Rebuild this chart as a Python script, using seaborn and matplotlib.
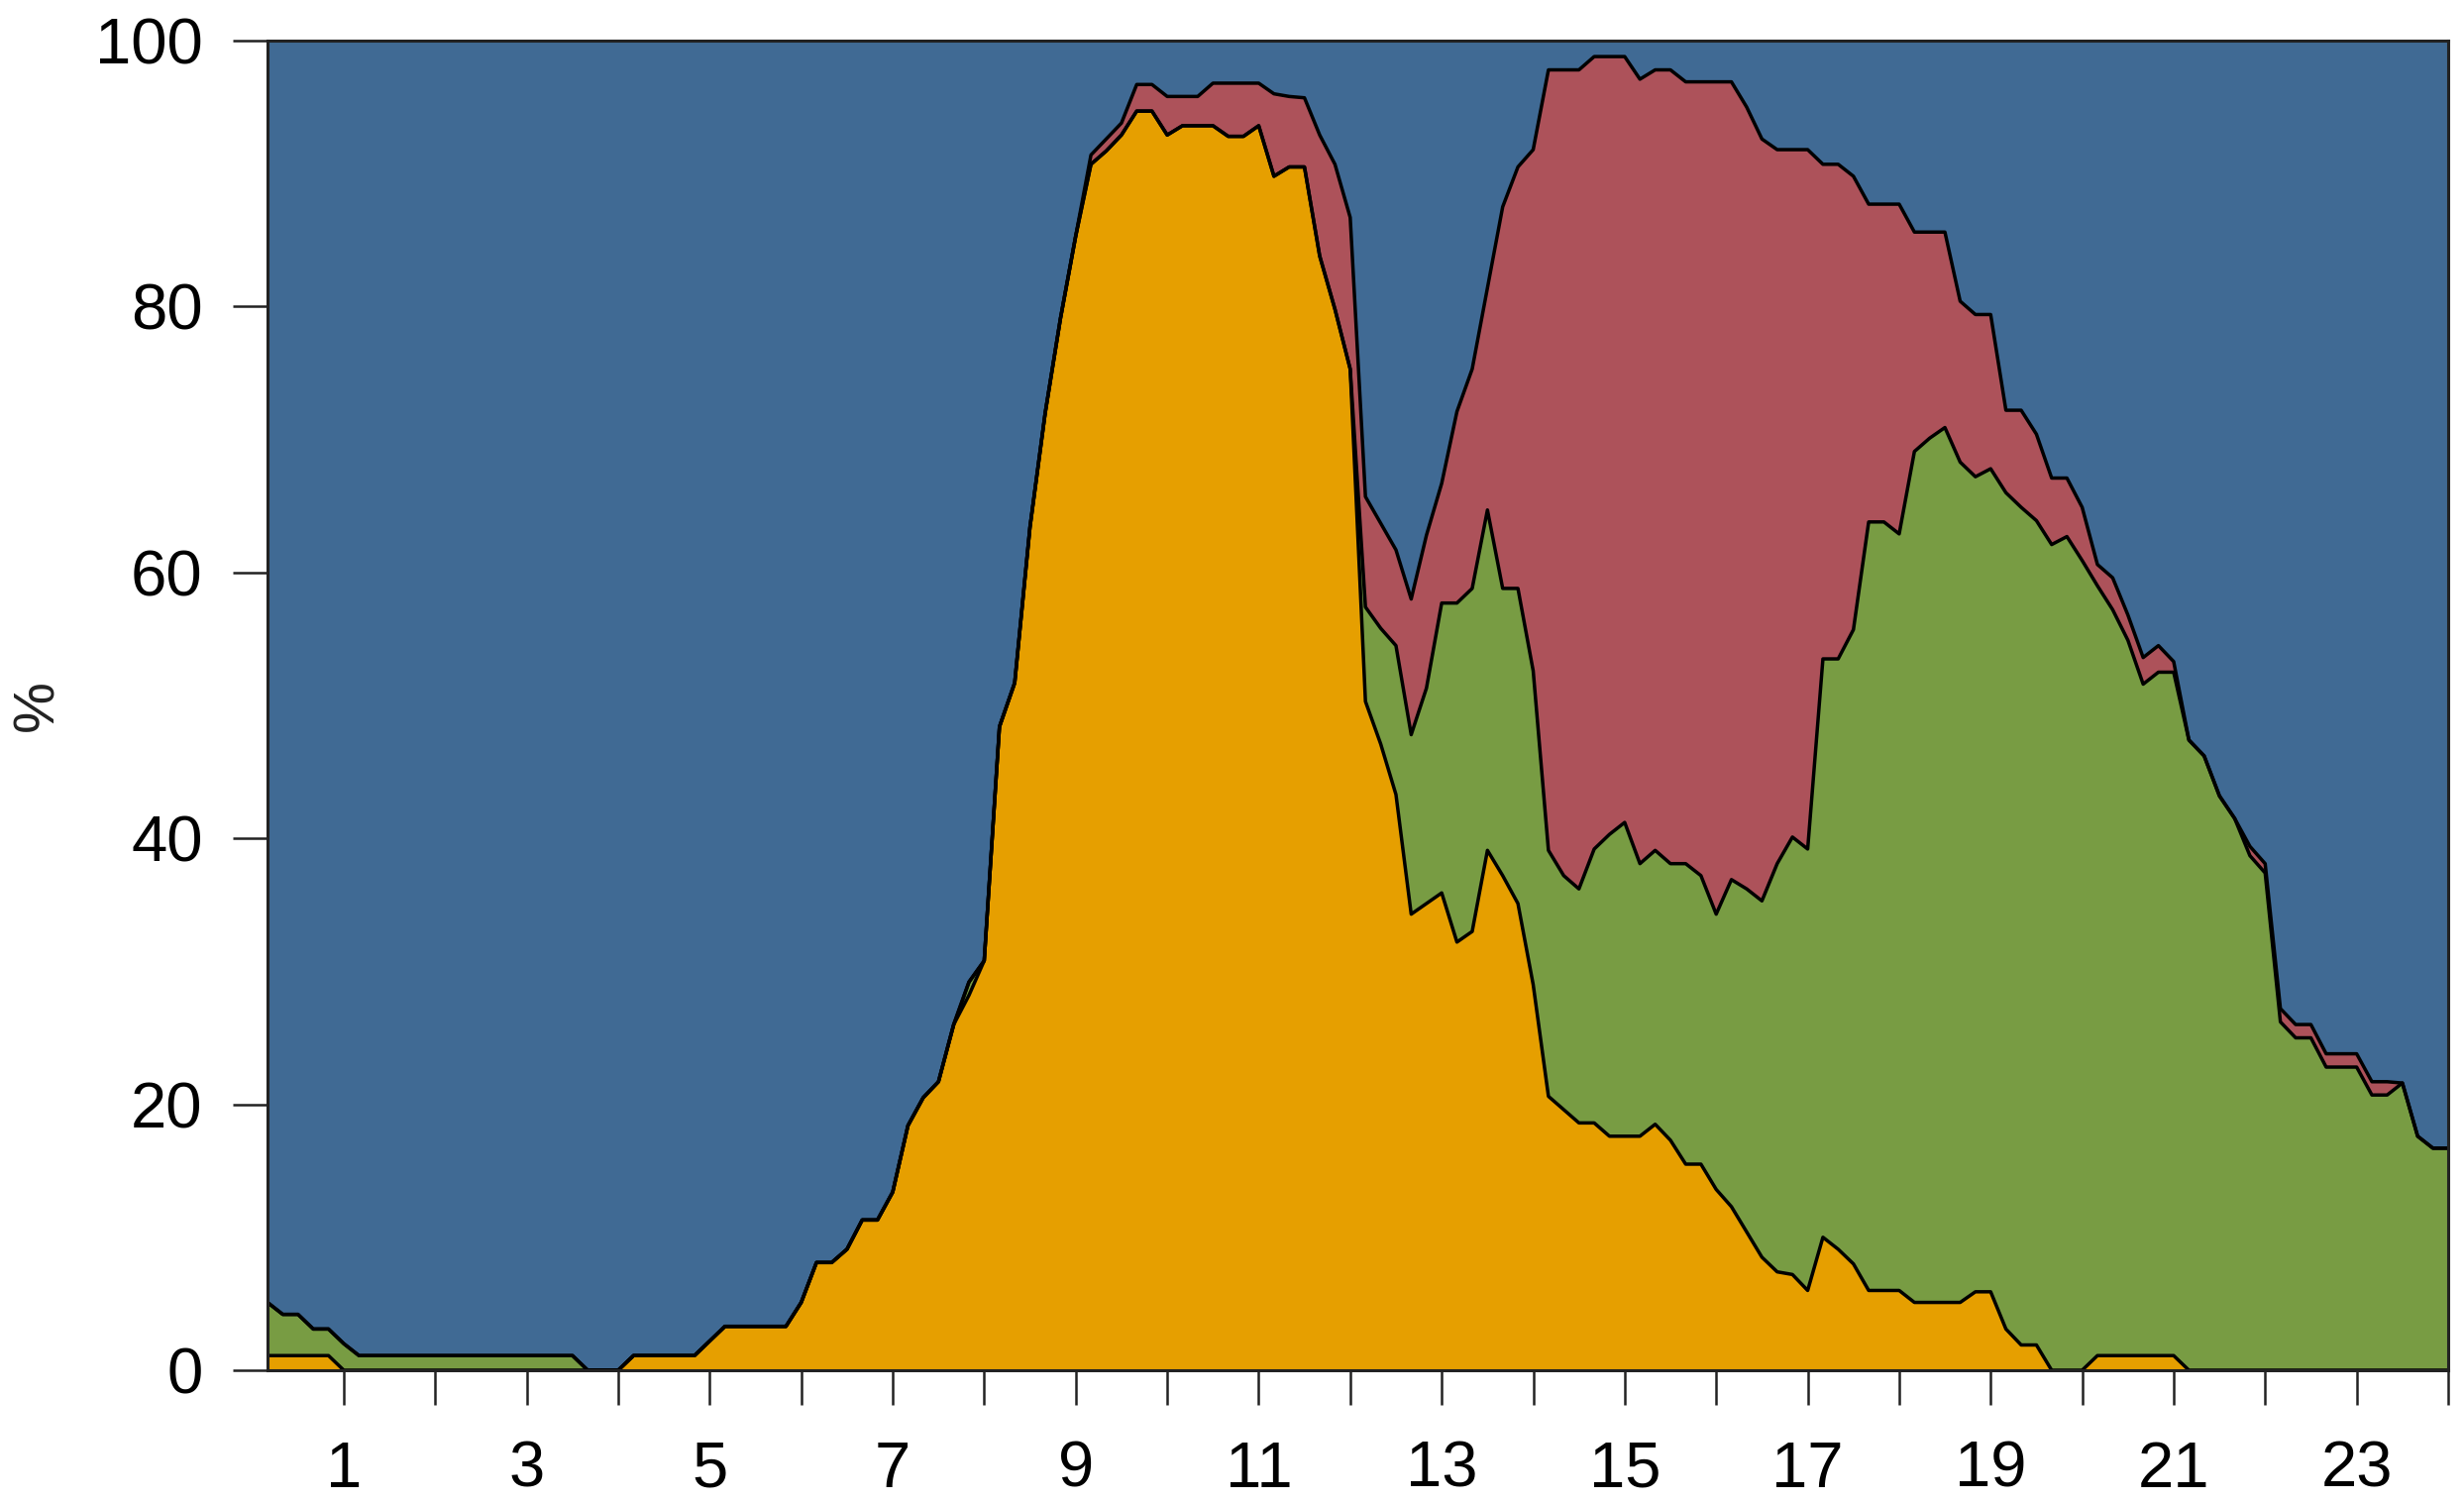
import matplotlib
matplotlib.use("Agg")
import numpy as np
import pandas as pd
import matplotlib.pyplot as plt
import seaborn as sns

# ---- data: share (%) of four activity groups, 10-minute slots from 0:10 to 24:00 ----
slot_hours = [i / 6 for i in range(1, 145)]

orange_pct = [
    1.1, 1.1, 1.1, 1.1, 1.1, 0,        # 0h
    0, 0, 0, 0, 0, 0,                  # 1h
    0, 0, 0, 0, 0, 0,                  # 2h
    0, 0, 0, 0, 0, 0,                  # 3h
    1.1, 1.1, 1.1, 1.1, 1.1, 2.2,      # 4h
    3.3, 3.3, 3.3, 3.3, 3.3, 5.1,      # 5h
    8.1, 8.1, 9.1, 11.3, 11.3, 13.4,   # 6h
    18.4, 20.5, 21.7, 26.0, 28.2, 30.8,  # 7h
    48.4, 51.7, 63.4, 72.0, 79.1, 85.3,  # 8h
    90.7, 91.7, 92.9, 94.7, 94.7, 92.9,  # 9h
    93.6, 93.6, 93.6, 92.8, 92.8, 93.6,  # 10h
    89.8, 90.5, 90.5, 83.8, 79.8, 75.3,  # 11h
    50.3, 47.1, 43.3, 34.3, 35.1, 35.9,  # 12h
    32.2, 33.0, 39.1, 37.2, 35.1, 29.0,  # 13h
    20.6, 19.6, 18.6, 18.6, 17.6, 17.6,  # 14h
    17.6, 18.5, 17.3, 15.5, 15.5, 13.6,  # 15h
    12.3, 10.4, 8.5, 7.4, 7.2, 6.0,      # 16h
    10.0, 9.1, 8.0, 6.0, 6.0, 6.0,       # 17h
    5.1, 5.1, 5.1, 5.1, 5.9, 5.9,        # 18h
    3.1, 1.9, 1.9, 0, 0, 0,              # 19h
    1.1, 1.1, 1.1, 1.1, 1.1, 1.1,        # 20h
    0, 0, 0, 0, 0, 0,                    # 21h
    0, 0, 0, 0, 0, 0,                    # 22h
    0, 0, 0, 0, 0, 0,                    # 23h
]

green_pct = [
    4.0, 3.1, 3.1, 2.0, 2.0, 2.0,
    1.1, 1.1, 1.1, 1.1, 1.1, 1.1,
    1.1, 1.1, 1.1, 1.1, 1.1, 1.1,
    1.1, 1.1, 1.1, 0, 0, 0,
    0, 0, 0, 0, 0, 0,
    0, 0, 0, 0, 0, 0,
    0, 0, 0, 0, 0, 0,
    0, 0, 0, 0, 1.0, 0,
    0, 0, 0, 0, 0, 0,
    0, 0, 0, 0, 0, 0,
    0, 0, 0, 0, 0, 0,
    0, 0, 0, 0, 0, 0,
    7.1, 8.7, 11.2, 13.5, 16.2, 21.8,
    25.5, 25.8, 25.6, 21.6, 23.7, 23.6,
    18.5, 17.6, 17.6, 20.6, 22.7, 23.6,
    20.5, 20.6, 20.8, 22.6, 21.7, 20.7,
    24.6, 25.8, 26.8, 30.7, 32.9, 33.2,
    43.5, 44.4, 47.7, 57.8, 57.8, 56.9,
    64.0, 65.0, 65.8, 63.2, 61.3, 61.9,
    62.9, 63.0, 62.0, 62.1, 62.7, 60.9,
    57.9, 56.1, 53.8, 50.5, 51.4, 51.4,
    47.4, 46.2, 43.2, 41.5, 38.7, 37.4,
    26.2, 25.0, 25.0, 22.8, 22.8, 22.8,
    20.7, 20.7, 21.6, 17.6, 16.7, 16.7,
]

red_pct = [
    0, 0, 0, 0, 0, 0,
    0, 0, 0, 0, 0, 0,
    0, 0, 0, 0, 0, 0,
    0, 0, 0, 0, 0, 0,
    0, 0, 0, 0, 0, 0,
    0, 0, 0, 0, 0, 0,
    0, 0, 0, 0, 0, 0,
    0, 0, 0, 0, 0, 0,
    0, 0, 0, 0, 0, 0,
    0.7, 0.9, 0.9, 2.0, 2.0, 2.9,
    2.2, 2.2, 3.2, 4.0, 4.0, 3.2,
    6.2, 5.3, 5.2, 9.1, 10.9, 11.4,
    8.3, 7.9, 7.2, 10.2, 11.5, 9.0,
    14.4, 16.5, 16.7, 28.7, 31.7, 39.2,
    58.7, 60.6, 61.6, 59.6, 58.5, 57.6,
    59.0, 58.7, 59.7, 58.8, 59.7, 62.6,
    60.0, 58.8, 57.3, 53.7, 51.7, 52.6,
    37.2, 37.2, 34.1, 23.9, 23.9, 24.8,
    16.5, 15.5, 14.7, 12.1, 12.2, 11.6,
    6.2, 7.3, 6.5, 5.0, 4.4, 4.0,
    1.6, 2.4, 1.9, 2.0, 2.0, 0.8,
    0, 0, 0, 0, 0.7, 0.7,
    1.0, 1.0, 1.0, 1.0, 1.0, 1.0,
    1.0, 1.0, 0, 0, 0, 0,
]

# blue is the remainder up to 100 %
blue_pct = [round(100 - o - g - r, 1) for o, g, r in zip(orange_pct, green_pct, red_pct)]

y_ticks = [0, 20, 40, 60, 80, 100]
x_ticks = list(range(1, 25))
x_ticklabels = [str(h) if h % 2 == 1 else "" for h in x_ticks]

colors = {
    "orange": "#E69F00",
    "green": "#789C43",
    "red": "#AD525A",
    "blue": "#406A94",
}

# ---- figure ----
sns.set_theme(style="ticks")
plt.rcParams["font.family"] = ["Liberation Sans", "DejaVu Sans"]

fig = plt.figure(figsize=(24.87, 15.16), dpi=100)
ax = fig.add_axes([270 / 2487, 133 / 1516, 2201 / 2487, 1342 / 1516])

df = pd.DataFrame({
    "hour": slot_hours,
    "orange": orange_pct,
    "green": green_pct,
    "red": red_pct,
    "blue": blue_pct,
})
order = ["orange", "green", "red", "blue"]
cum = df[order].cumsum(axis=1)

lower = np.zeros(len(df))
for name in order:
    upper = cum[name].to_numpy()
    ax.fill_between(df["hour"], lower, upper, color=colors[name], linewidth=0, zorder=1)
    lower = upper

# boundary lines between the stacked layers
long = cum[["orange", "green", "red"]].copy()
long["hour"] = df["hour"]
long = long.melt(id_vars="hour", var_name="layer", value_name="top")
sns.lineplot(data=long, x="hour", y="top", units="layer", estimator=None,
             color="black", linewidth=2.5, ax=ax, zorder=3, sort=False)

ax.set_xlim(slot_hours[0], 24)
ax.set_ylim(0, 100)
ax.set_xticks(x_ticks)
ax.set_xticklabels(x_ticklabels)
ax.set_yticks(y_ticks)
ax.set_yticklabels([str(v) for v in y_ticks])

for side in ["top", "right", "left", "bottom"]:
    ax.spines[side].set_visible(True)
    ax.spines[side].set_color("#222222")
    ax.spines[side].set_linewidth(2.2)
    ax.spines[side].set_zorder(5)

ax.tick_params(axis="both", direction="out", length=25, width=1.8,
               color="#222222", labelcolor="black", labelsize=47)
ax.tick_params(axis="y", pad=22)
ax.tick_params(axis="x", pad=26)

ax.set_xlabel("")
ax.set_ylabel("%", fontsize=42, color="#222222")
ax.yaxis.set_label_coords(-0.093, 0.5)
ax.grid(False)

fig.savefig("out.png", dpi=100)
